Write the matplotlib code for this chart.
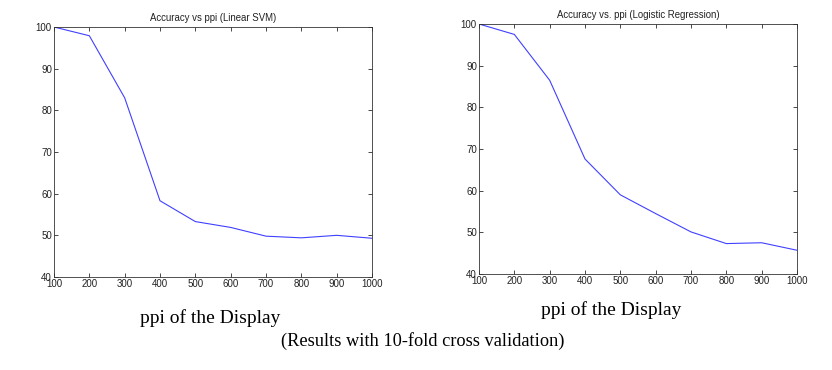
import numpy as np
import matplotlib
matplotlib.use('Agg')
import matplotlib.pyplot as plt

# accuracy (%) against ppi of the display, 10-fold cross validation
ppi = [100, 200, 300, 400, 500, 600, 700, 800, 900, 1000]
acc_svm = [100, 97.9, 83.0, 58.3, 53.3, 51.9, 49.8, 49.4, 50.0, 49.3]
acc_logreg = [100, 97.5, 86.5, 67.6, 59.0, 54.5, 50.1, 47.3, 47.5, 45.7]

yticks = [40, 50, 60, 70, 80, 90, 100]

#------------------------------------------------------------------------------

W, H = 832, 370
fig = plt.figure(figsize=[W / 100, H / 100], dpi=100)

def panel(rect, y, title):
    l, t, r, b = rect
    ax = fig.add_axes([l / W, 1 - b / H, (r - l) / W, (b - t) / H])
    ax.plot(ppi, y, color='#0000ff', lw=0.8, alpha=0.75)
    ax.set_xlim(100, 1000)
    ax.set_ylim(40, 100)
    ax.set_xticks(ppi)
    ax.set_yticks(yticks)
    ax.tick_params(direction='in', top=True, right=True, length=3,
                   width=0.5, labelsize=7, pad=1.5)
    for s in ax.spines.values():
        s.set_linewidth(0.6)
        s.set_color('#333333')
    for lab in ax.get_xticklabels() + ax.get_yticklabels():
        lab.set_family('Liberation Sans')
        lab.set_color('#222222')
    ax.set_title(title, fontsize=6.9, family='Liberation Sans', pad=4,
                 color='#222222')
    return ax

panel((54, 27, 372, 277), acc_svm, 'Accuracy vs ppi (Linear SVM)')
panel((479, 24, 797, 274), acc_logreg, 'Accuracy vs. ppi (Logistic Regression)')

#------------------------------------------------------------------------------

fig.text(210 / W, 1 - 318 / H, 'ppi of the Display', ha='center', va='center',
         fontsize=14, family='Liberation Serif')
fig.text(611 / W, 1 - 310 / H, 'ppi of the Display', ha='center', va='center',
         fontsize=14, family='Liberation Serif')
fig.text(423 / W, 1 - 341 / H, '(Results with 10-fold cross validation)',
         ha='center', va='center', fontsize=13.2, family='Liberation Serif')

fig.savefig('out.png', dpi=100)
